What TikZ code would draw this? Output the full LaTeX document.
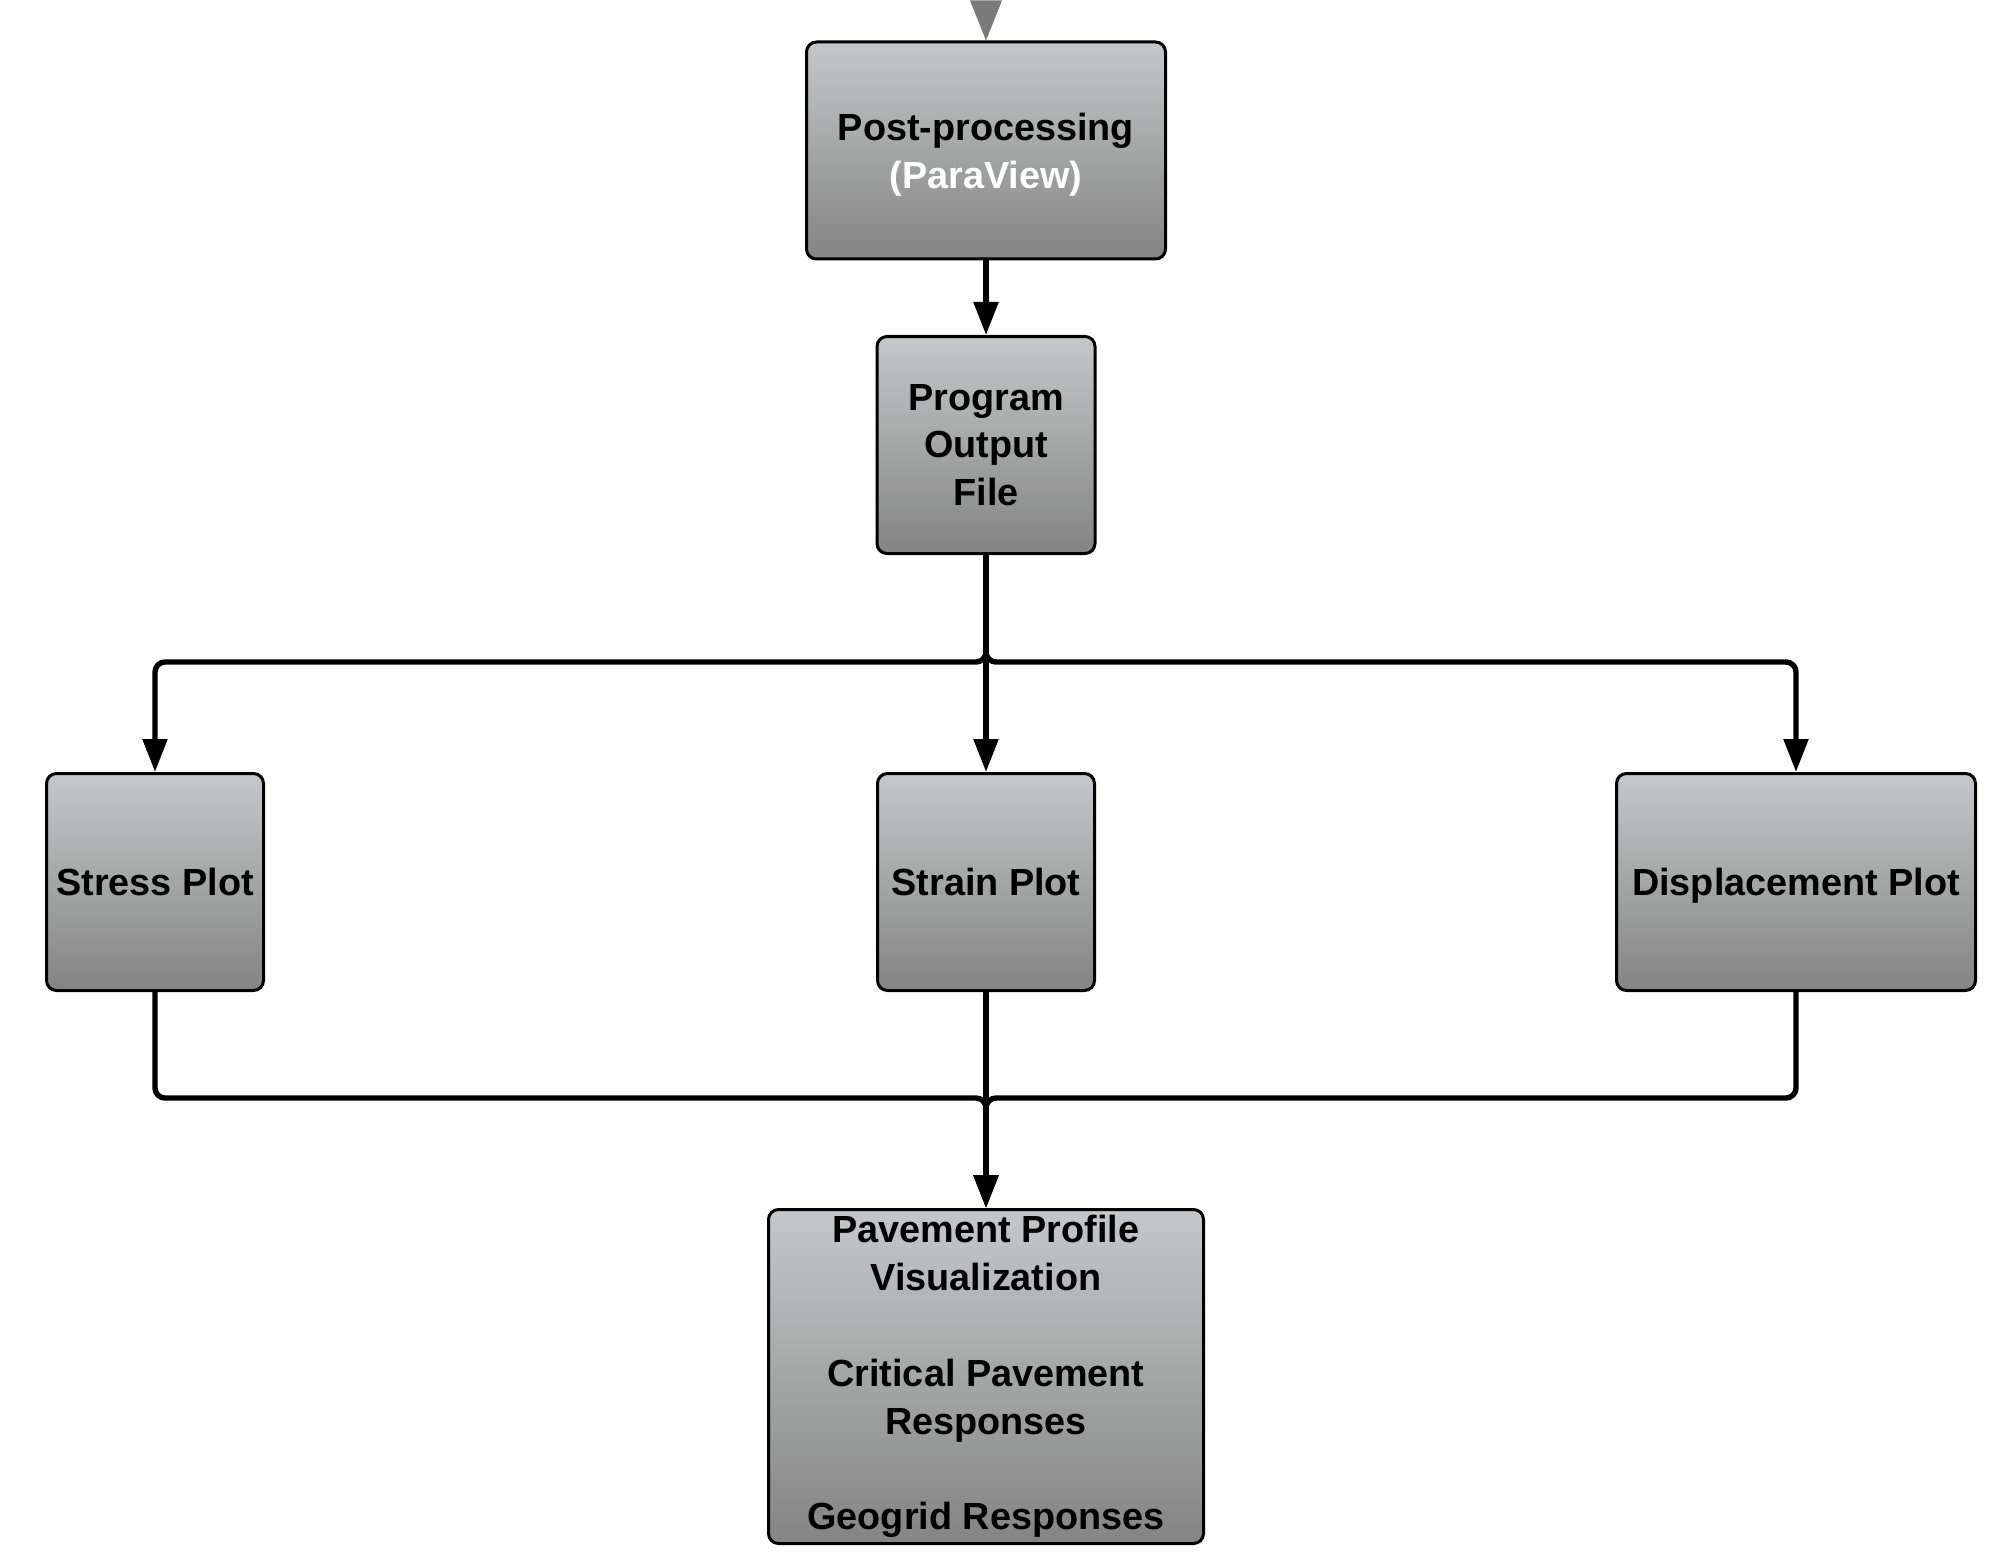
\documentclass[tikz,border=0pt]{standalone}
\usepackage{fontspec}
\setmainfont{Liberation Sans}
\usetikzlibrary{arrows.meta}
\definecolor{boxtop}{RGB}{198,199,200}
\definecolor{boxbot}{RGB}{132,132,132}
\definecolor{tipgray}{RGB}{122,122,122}
\tikzset{
  stepbox/.style={draw=black, line width=1.5pt, rounded corners=5pt,
    top color=boxtop, bottom color=boxbot, align=center, inner sep=2pt,
    font=\fontsize{18.9pt}{23.6pt}\selectfont\bfseries},
  plotbox/.style={stepbox, minimum height=108.5pt, text height=1.4em, text depth=0.1em},
  conn/.style={draw=black, line width=2.7pt, rounded corners=5pt,
    -{Triangle[length=16.5pt,width=12pt]}}
}
\begin{document}
\begin{tikzpicture}[x=0.5pt, y=-0.5pt]
\useasboundingbox (0,0) rectangle (2008,1562);

% process boxes
\node[stepbox, minimum width=179.5pt, minimum height=108.5pt, text depth=0pt,
  font=\fontsize{18.9pt}{24pt}\selectfont\bfseries] (pp) at (986,150.5)
  {Post-processing\\\textcolor{white}{(ParaView)}};
\node[stepbox, minimum width=109pt, minimum height=108.5pt] (pof) at (986,445)
  {Program\\Output\\File};
\node[plotbox, minimum width=108.5pt] (stress) at (155,882) {Stress Plot};
\node[plotbox, minimum width=108.5pt] (strain) at (986,882) {Strain Plot};
\node[plotbox, minimum width=179.5pt] (disp) at (1796,882) {Displacement Plot};
\node[stepbox, inner sep=0.5pt, minimum width=217.5pt, minimum height=167pt,
  font=\fontsize{18.9pt}{23.9pt}\selectfont\bfseries] (out) at (986,1376.5)
  {Pavement Profile\\Visualization\\[23.9pt]Critical Pavement\\Responses\\[23.9pt]Geogrid Responses};

% incoming arrowhead above the first box
\fill[tipgray] (pp.north) -- ++(-16,-40) -- ++(32,0) -- cycle;

% branch and merge points
\coordinate (split) at (986,662);
\coordinate (merge) at (986,1098);

% connectors
\draw[conn] (pp.south) -- (pof.north);
\draw[conn] (pof.south) -- (split) -| (stress.north);
\draw[conn] (pof.south) -- (split) -| (disp.north);
\draw[conn] (pof.south) -- (strain.north);
\draw[conn] (stress.south) |- (merge) -- (out.north);
\draw[conn] (disp.south) |- (merge) -- (out.north);
\draw[conn] (strain.south) -- (out.north);
\end{tikzpicture}
\end{document}
